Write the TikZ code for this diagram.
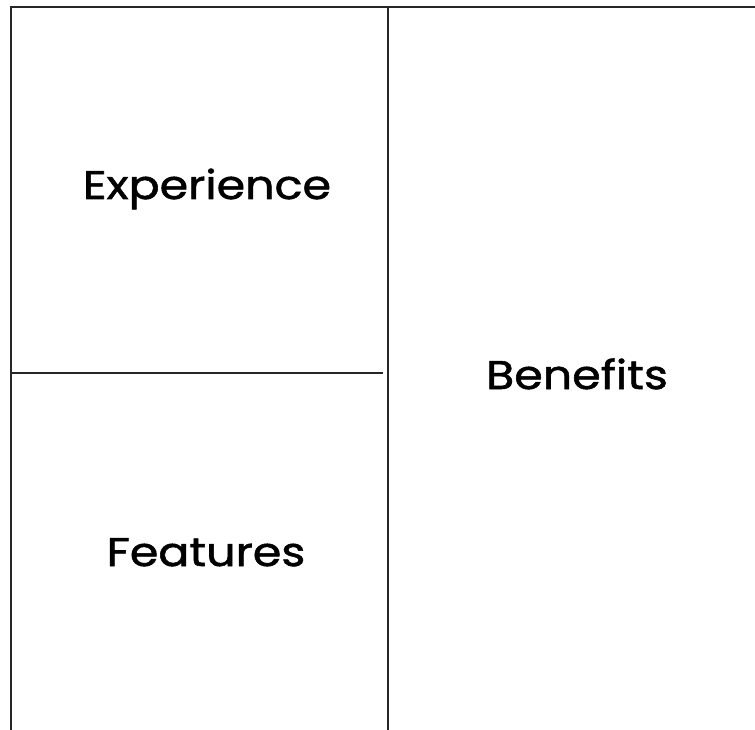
\documentclass[tikz,border=0pt]{standalone}
\usepackage{fontspec}
\setmainfont{Poppins}[FakeStretch=1.15, FakeBold=1.4]
\usepackage{tikz}
\usetikzlibrary{positioning}
\tikzstyle{label}=  [font=\fontsize{40}{46}\selectfont,
inner sep=0,
anchor=base,
]
\tikzstyle{border}= [line width=2pt,
color=black!85,
]

\begin{document}
\begin{tikzpicture}[x=1pt, y=-1pt]
        \useasboundingbox (0,0) rectangle (755,730);
        \coordinate (top_left) at (10,7.5);
        \coordinate (top_right) at (755,7.5);
        \coordinate (bottom_left) at (11,730);
        \coordinate (split_top) at (387.5,7.5);
        \coordinate (split_bottom) at (387.5,730);
        \coordinate (mid_left) at (12,373);
        \coordinate (mid_right) at (383,373);

        \node[label] (experience) at (207,199) {Experience};
        \node[label] (features) at (206,566) {Features};
        \node[label] (benefits) at (577,389) {Benefits};

        \draw[border] (top_left) -- (top_right);
        \draw[border] (top_left -| bottom_left) -- (bottom_left);
        \draw[border] (split_top) -- (split_bottom);
        \draw[border] (mid_left) -- (mid_right);
    \end{tikzpicture}
\end{document}
